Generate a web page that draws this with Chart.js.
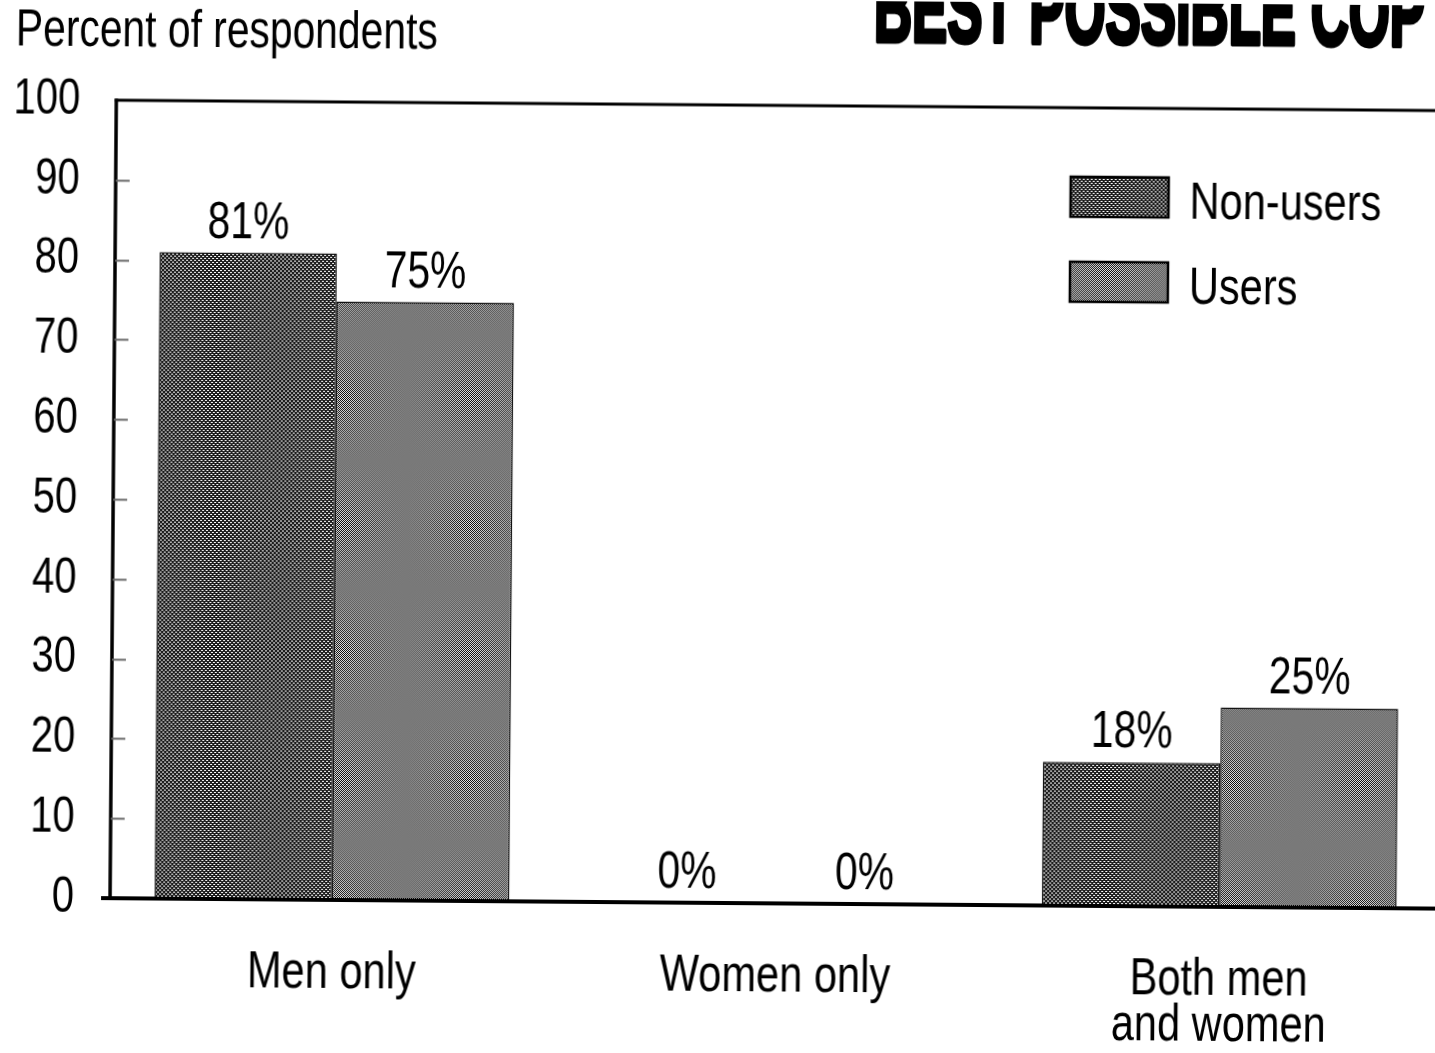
<!DOCTYPE html>
<html>
<head>
<meta charset="utf-8">
<title>Percent of respondents</title>
<script src="https://cdn.jsdelivr.net/npm/chart.js@4.4.1/dist/chart.umd.min.js"></script>
<style>
  html, body { margin: 0; padding: 0; background: #fff; overflow: hidden; }
  #wrap { width: 1450px; height: 1053px; }
  #chart { display: block; transform: rotate(0.45deg); transform-origin: 725px 526px; }
</style>
</head>
<body>
<div id="wrap"><canvas id="chart" width="1450" height="1053"></canvas></div>
<script>
// ---- data ----
const categories = [['Men only'], ['Women only'], ['Both men', 'and women']];
const seriesNames = ['Non-users', 'Users'];
const nonUsers = [81, 0, 18];
const users = [75, 0, 25];
const yTickStep = 10;
const yMax = 100;
const axisTitle = 'Percent of respondents';
const stampText = 'BEST POSSIBLE COPY';

const FONT = "'Liberation Sans', Arial, sans-serif";
const NARROW = 0.8;   // horizontal squeeze giving a condensed face

const canvas = document.getElementById('chart');
const ctx = canvas.getContext('2d');

// condensed text: every string on this canvas is drawn squeezed horizontally
const rawFillText = ctx.fillText.bind(ctx);
const rawMeasure = ctx.measureText.bind(ctx);
ctx.fillText = function (text, x, y) {
  this.save();
  this.translate(x, y);
  this.scale(NARROW, 1);
  rawFillText(text, 0, 0);
  this.restore();
};
ctx.measureText = function (text) {
  const m = rawMeasure(text);
  return {
    width: m.width * NARROW,
    actualBoundingBoxAscent: m.actualBoundingBoxAscent,
    actualBoundingBoxDescent: m.actualBoundingBoxDescent,
    actualBoundingBoxLeft: m.actualBoundingBoxLeft * NARROW,
    actualBoundingBoxRight: m.actualBoundingBoxRight * NARROW
  };
};

// halftone-like fills for the bars
function makePattern(size, dark, light, lightCells) {
  const c = document.createElement('canvas');
  c.width = size; c.height = size;
  const g = c.getContext('2d');
  g.fillStyle = dark;
  g.fillRect(0, 0, size, size);
  g.fillStyle = light;
  lightCells.forEach(([x, y]) => g.fillRect(x, y, 1, 1));
  return g.createPattern(c, 'repeat');
}
const fillNon = makePattern(4, '#1c1c1c', '#ffffff', [[0, 0], [1, 0], [2, 2], [3, 2]]);
const fillUsers = makePattern(2, '#0a0a0a', '#e8e8e8', [[1, 0], [0, 1]]);
const fills = [fillNon, fillUsers];

// axis frame, inner tick marks
const framePlugin = {
  id: 'frame',
  afterDatasetsDraw(chart) {
    const { ctx, chartArea: a, scales: { y } } = chart;
    const W = chart.width;
    ctx.save();
    ctx.strokeStyle = '#000';
    ctx.lineCap = 'butt';
    ctx.lineWidth = 3;
    ctx.beginPath(); ctx.moveTo(a.left - 1.5, a.top); ctx.lineTo(W, a.top); ctx.stroke();
    ctx.lineWidth = 3.5;
    ctx.beginPath(); ctx.moveTo(a.left, a.top - 1.5); ctx.lineTo(a.left, a.bottom); ctx.stroke();
    ctx.lineWidth = 4;
    ctx.beginPath(); ctx.moveTo(a.left - 9, a.bottom); ctx.lineTo(W, a.bottom); ctx.stroke();
    ctx.strokeStyle = '#6a6a6a';
    ctx.lineWidth = 2;
    for (let v = yTickStep; v < yMax; v += yTickStep) {
      const py = Math.round(y.getPixelForValue(v)) + 0.5;
      ctx.beginPath(); ctx.moveTo(a.left, py); ctx.lineTo(a.left + 14, py); ctx.stroke();
    }
    ctx.restore();
  }
};

// percent labels above each bar
const valueLabels = {
  id: 'valueLabels',
  afterDatasetsDraw(chart) {
    const { ctx } = chart;
    ctx.save();
    ctx.fillStyle = '#000';
    ctx.font = `51px ${FONT}`;
    ctx.textAlign = 'center';
    ctx.textBaseline = 'alphabetic';
    chart.data.datasets.forEach((ds, i) => {
      chart.getDatasetMeta(i).data.forEach((bar, j) => {
        ctx.fillText(ds.data[j] + '%', bar.x, bar.y - 15);
      });
    });
    ctx.restore();
  }
};

// legend drawn inside the plot, upper right
const boxLegend = {
  id: 'boxLegend',
  afterDraw(chart) {
    const { ctx } = chart;
    ctx.save();
    ctx.font = `52px ${FONT}`;
    ctx.textBaseline = 'alphabetic';
    chart.data.datasets.forEach((ds, i) => {
      const bx = 1068, by = 174 + i * 85, bw = 98, bh = 40;
      ctx.fillStyle = ds.backgroundColor;
      ctx.fillRect(bx, by, bw, bh);
      ctx.strokeStyle = '#000';
      ctx.lineWidth = 2.5;
      ctx.strokeRect(bx, by, bw, bh);
      ctx.fillStyle = '#000';
      ctx.fillText(ds.label, 1187, by + 41);
    });
    ctx.restore();
  }
};

// axis caption and the stamp across the top edge
const headings = {
  id: 'headings',
  afterDraw(chart) {
    const { ctx } = chart;
    ctx.save();
    ctx.fillStyle = '#000';
    ctx.textBaseline = 'alphabetic';
    ctx.textAlign = 'left';
    ctx.font = `51px ${FONT}`;
    ctx.fillText(axisTitle, 12, 51);
    // stamp: heavy condensed capitals, running off the top and right edges
    ctx.beginPath();
    ctx.rect(0, 0, 1422, 80);
    ctx.clip();
    ctx.font = `bold 96px ${FONT}`;
    const target = 551;
    const sx = target / rawMeasure(stampText.slice(0, -1)).width;
    ctx.translate(870, 40);
    ctx.scale(sx, 1);
    ctx.strokeStyle = '#000';
    ctx.lineWidth = 5;
    ctx.lineJoin = 'round';
    ctx.strokeText(stampText, 0, 0);
    rawFillText(stampText, 0, 0);
    ctx.restore();
  }
};

new Chart(ctx, {
  type: 'bar',
  data: {
    labels: categories,
    datasets: [
      { label: seriesNames[0], data: nonUsers, backgroundColor: fills[0], borderColor: '#111', borderWidth: 1.5 },
      { label: seriesNames[1], data: users, backgroundColor: fills[1], borderColor: '#111', borderWidth: 1.5 }
    ]
  },
  options: {
    responsive: false,
    animation: false,
    layout: { padding: { top: 105, right: 6, left: 0, bottom: 0 } },
    datasets: { bar: { categoryPercentage: 0.8, barPercentage: 1.0 } },
    plugins: { legend: { display: false }, tooltip: { enabled: false }, title: { display: false } },
    scales: {
      x: {
        grid: { display: false, drawTicks: false },
        border: { display: false },
        ticks: { color: '#000', padding: 51, font: { family: FONT, size: 52, lineHeight: 0.88 } },
        afterFit(s) { s.height = 150; }
      },
      y: {
        min: 0, max: yMax,
        grid: { display: false, drawTicks: false },
        border: { display: false },
        ticks: { stepSize: yTickStep, color: '#000', padding: 36, font: { family: FONT, size: 50 } },
        afterFit(s) { s.width = 113; }
      }
    }
  },
  plugins: [framePlugin, valueLabels, boxLegend, headings]
});
</script>
</body>
</html>
